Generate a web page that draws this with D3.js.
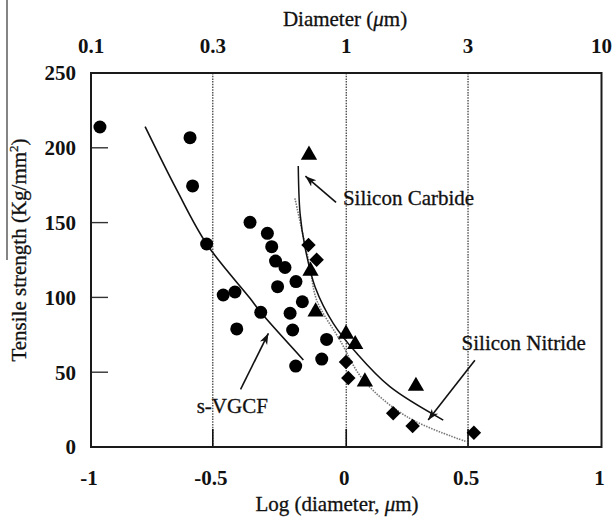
<!DOCTYPE html>
<html>
<head>
<meta charset="utf-8">
<script src="https://cdn.jsdelivr.net/npm/d3@7"></script>
<style>
  html, body { margin: 0; padding: 0; background: #fff; }
  svg { display: block; }
  text { font-family: "Liberation Serif", "Times New Roman", serif; fill: #111; }
</style>
</head>
<body>
<svg id="chart" width="614" height="521"></svg>
<script>
// ---- Data (log10 of diameter in µm, tensile strength in kg/mm²) ----
const vgcfPoints = [
  [-0.965, 213.9], [-0.612, 206.8], [-0.602, 174.5], [-0.547, 135.7],
  [-0.482, 101.6], [-0.436, 103.6], [-0.429, 78.9], [-0.377, 150.2],
  [-0.335, 90.0], [-0.309, 142.8], [-0.292, 133.9], [-0.277, 124.3],
  [-0.240, 120.0], [-0.269, 107.2], [-0.220, 89.4], [-0.210, 78.2],
  [-0.197, 110.6], [-0.198, 54.1], [-0.172, 97.1], [-0.096, 58.8],
  [-0.077, 71.9]
];
const carbidePoints = [
  [-0.146, 195.9], [-0.140, 118.3], [-0.120, 91.1], [-0.001, 76.2],
  [0.035, 69.3], [0.073, 44.3], [0.273, 41.4]
];
const nitridePoints = [
  [-0.148, 135.0], [-0.116, 125.2], [-0.001, 56.8], [0.008, 46.1],
  [0.184, 22.5], [0.260, 14.0], [0.500, 9.6]
];
// fitted trend curves
const vgcfCurve = [
  [-0.788, 214.1], [-0.664, 171.8], [-0.547, 135.7], [-0.377, 99.4],
  [-0.335, 90.0], [-0.168, 58.2]
];
const carbideCurve = [
  [-0.188, 187.8], [-0.181, 156.2], [-0.162, 133.9], [-0.122, 107.0],
  [-0.051, 82.7], [0.041, 62.6], [0.171, 40.3], [0.380, 18.0]
];
const nitrideCurve = [
  [-0.201, 166.2], [-0.168, 140.6], [-0.142, 120.5], [-0.116, 98.3],
  [-0.025, 71.5], [0.067, 44.8], [0.237, 20.3], [0.472, 3.5]
];
// axes
const yTicks = [0, 50, 100, 150, 200, 250];
const topTicks = [0.1, 0.3, 1, 3, 10];
const topTickLabels = ["0.1", "0.3", "1", "3", "10"];
const bottomTickLabels = ["-1", "-0.5", "0", "0.5", "1"];
const gridDiameters = [0.3, 1, 3];
// annotations: label, text anchor point, arrow tail, arrow head
const annotations = [
  { label: "Silicon Carbide", text: [-0.013, 161.5], tail: [-0.040, 163.5], head: [-0.160, 181.0] },
  { label: "Silicon Nitride", text: [0.452, 64.8], tail: [0.504, 58.0], head: [0.321, 18.0] },
  { label: "s-VGCF", text: [-0.586, 22.5], tail: [-0.414, 38.5], head: [-0.305, 76.0] }
];

// ---- Layout ----
const L = 91, R = 601.5, T = 73, B = 447;
const svg = d3.select("#chart");
const x = d3.scaleLinear().domain([-1, 1]).range([L, R]);
const xTop = d3.scaleLog().domain([0.1, 10]).range([L, R]);
const y = d3.scaleLinear().domain([0, 250]).range([B, T]);

// scan artefact line at far left
svg.append("line").attr("x1", 7).attr("x2", 7).attr("y1", 0).attr("y2", 260)
  .attr("stroke", "#333").attr("stroke-width", 1.2);

// dotted grid lines at diameters 0.3, 1, 3
svg.append("g").selectAll("line").data(gridDiameters).join("line")
  .attr("x1", d => xTop(d)).attr("x2", d => xTop(d))
  .attr("y1", T).attr("y2", B)
  .attr("stroke", "#333").attr("stroke-width", 1.2)
  .attr("stroke-dasharray", "1.5,1.2");

// inward ticks on bottom (solid) at the grid positions
svg.append("g").selectAll("line").data(gridDiameters).join("line")
  .attr("x1", d => xTop(d)).attr("x2", d => xTop(d))
  .attr("y1", B).attr("y2", B - 18)
  .attr("stroke", "#111").attr("stroke-width", 1.6);

// inward ticks on left
svg.append("g").selectAll("line").data(yTicks.filter(d => d > 0 && d < 250)).join("line")
  .attr("x1", L).attr("x2", L + 17)
  .attr("y1", d => y(d)).attr("y2", d => y(d))
  .attr("stroke", "#333").attr("stroke-width", 1.4);

// frame
svg.append("rect").attr("x", L).attr("y", T).attr("width", R - L).attr("height", B - T)
  .attr("fill", "none").attr("stroke", "#1a1a1a").attr("stroke-width", 2);

// y tick labels
svg.append("g").selectAll("text").data(yTicks).join("text")
  .attr("x", L - 15).attr("y", d => y(d)).attr("dy", "0.35em")
  .attr("text-anchor", "end").attr("font-size", 21).attr("font-weight", "bold")
  .text(d => d);

// top tick labels (log diameter)
svg.append("g").selectAll("text").data(topTicks).join("text")
  .attr("x", d => xTop(d)).attr("y", 53)
  .attr("text-anchor", "middle").attr("font-size", 21).attr("font-weight", "bold")
  .text((d, i) => topTickLabels[i]);

// bottom tick labels (log10 of diameter, placed at the same diameters)
svg.append("g").selectAll("text").data(topTicks).join("text")
  .attr("x", d => xTop(d) - 2).attr("y", 485)
  .attr("text-anchor", "middle").attr("font-size", 21).attr("font-weight", "bold")
  .text((d, i) => bottomTickLabels[i]);

// axis titles
const topTitle = svg.append("text").attr("x", 345).attr("y", 26)
  .attr("text-anchor", "middle").attr("font-size", 21)
  .attr("stroke", "#111").attr("stroke-width", 0.3);
topTitle.append("tspan").text("Diameter (");
topTitle.append("tspan").attr("font-style", "italic").text("μ");
topTitle.append("tspan").text("m)");

const botTitle = svg.append("text").attr("x", 337).attr("y", 511)
  .attr("text-anchor", "middle").attr("font-size", 21)
  .attr("stroke", "#111").attr("stroke-width", 0.3);
botTitle.append("tspan").text("Log (diameter, ");
botTitle.append("tspan").attr("font-style", "italic").text("μ");
botTitle.append("tspan").text("m)");

const yTitle = svg.append("text")
  .attr("transform", "translate(26,250) rotate(-90)")
  .attr("text-anchor", "middle").attr("font-size", 21)
  .attr("stroke", "#111").attr("stroke-width", 0.3);
yTitle.append("tspan").text("Tensile strength (Kg/mm");
yTitle.append("tspan").attr("font-size", 13).attr("dy", -8).text("2");
yTitle.append("tspan").attr("dy", 8).text(")");

// curves
const line = d3.line().x(d => x(d[0])).y(d => y(d[1])).curve(d3.curveCatmullRom.alpha(0.5));
svg.append("path").datum(vgcfCurve).attr("d", line)
  .attr("fill", "none").attr("stroke", "#111").attr("stroke-width", 1.6);
svg.append("path").datum(nitrideCurve).attr("d", line)
  .attr("fill", "none").attr("stroke", "#777").attr("stroke-width", 1.6)
  .attr("stroke-dasharray", "1.5,1.2");
svg.append("path").datum(carbideCurve).attr("d", line)
  .attr("fill", "none").attr("stroke", "#111").attr("stroke-width", 1.5);

// markers
svg.append("g").selectAll("circle").data(vgcfPoints).join("circle")
  .attr("cx", d => x(d[0])).attr("cy", d => y(d[1])).attr("r", 6.5)
  .attr("fill", "#000");
const tri = d3.symbol().type(d3.symbolTriangle).size(115);
svg.append("g").selectAll("path").data(carbidePoints).join("path")
  .attr("d", tri).attr("transform", d => `translate(${x(d[0])},${y(d[1]) + 1})`)
  .attr("fill", "#000");
const dia = d3.symbol().type(d3.symbolSquare).size(105);
svg.append("g").selectAll("path").data(nitridePoints).join("path")
  .attr("d", dia).attr("transform", d => `translate(${x(d[0])},${y(d[1])}) rotate(45)`)
  .attr("fill", "#000");

// arrows + labels
svg.append("defs").append("marker")
  .attr("id", "arrow").attr("viewBox", "0 0 12 10").attr("refX", 11).attr("refY", 5)
  .attr("markerWidth", 12).attr("markerHeight", 10).attr("markerUnits", "userSpaceOnUse")
  .attr("orient", "auto")
  .append("path").attr("d", "M0,1 L11,5 L0,9 L3,5 Z").attr("fill", "#111");

const ann = svg.append("g").selectAll("g").data(annotations).join("g");
ann.append("line")
  .attr("x1", d => x(d.tail[0])).attr("y1", d => y(d.tail[1]))
  .attr("x2", d => x(d.head[0])).attr("y2", d => y(d.head[1]))
  .attr("stroke", "#111").attr("stroke-width", 1.6).attr("marker-end", "url(#arrow)");
ann.append("text")
  .attr("x", d => x(d.text[0])).attr("y", d => y(d.text[1]))
  .attr("font-size", 21).attr("stroke", "#111").attr("stroke-width", 0.3)
  .text(d => d.label);
</script>
</body>
</html>
